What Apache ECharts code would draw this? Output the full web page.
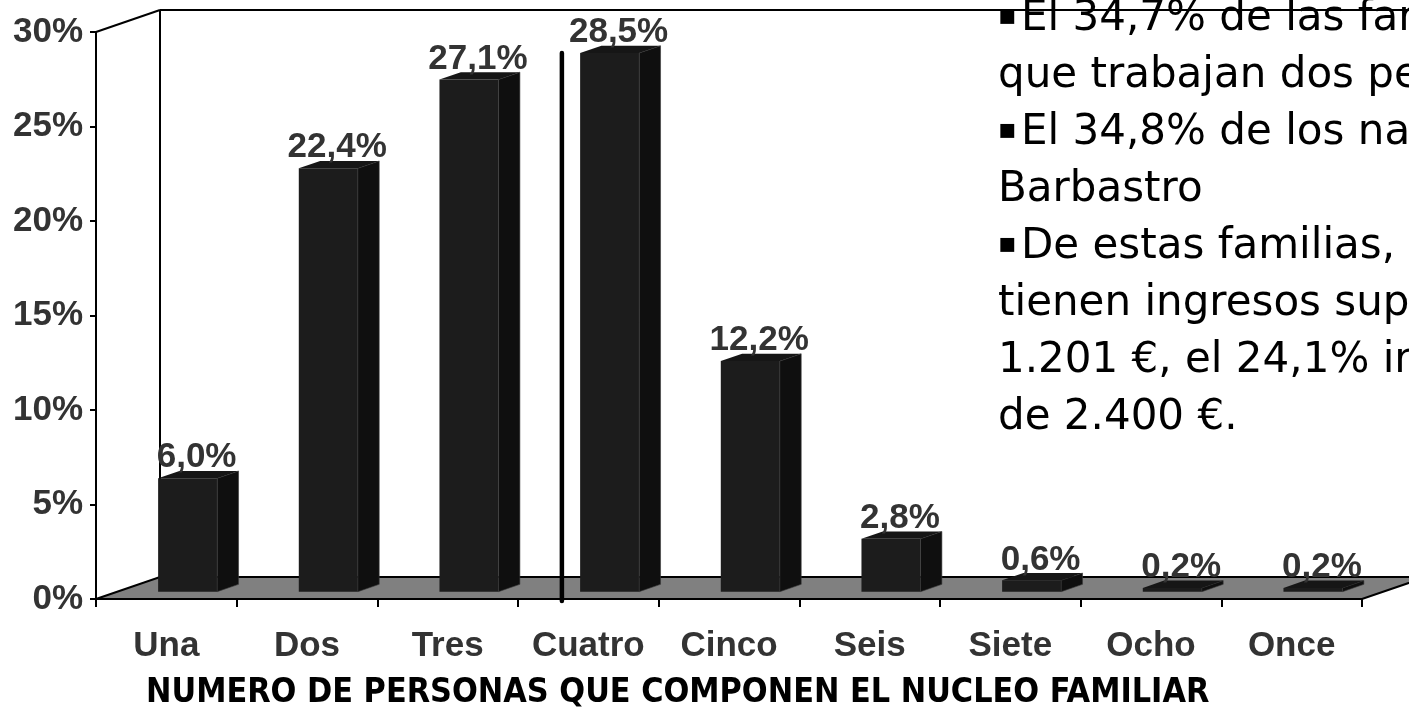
<!DOCTYPE html>
<html><head><meta charset="utf-8">
<script src="https://cdn.jsdelivr.net/npm/echarts@6/dist/echarts.min.js"></script>
<style>html,body{margin:0;padding:0;background:#fff}#c{width:1409px;height:708px}</style>
</head><body><div id="c"></div>
<script>
const categories = ['Una', 'Dos', 'Tres', 'Cuatro', 'Cinco', 'Seis', 'Siete', 'Ocho', 'Once'];
const shares = [6.0, 22.4, 27.1, 28.5, 12.2, 2.8, 0.6, 0.2, 0.2];
const yMin = 0, yMax = 30, yStep = 5;
const axisTitle = 'NUMERO DE PERSONAS QUE COMPONEN EL NUCLEO FAMILIAR';
const markedCategory = 'Cuatro';
const noteLines = [
  '{b|\u25AA}El 34,7% de las familias',
  'que trabajan dos personas',
  '{b|\u25AA}El 34,8% de los naturales de',
  'Barbastro',
  '{b|\u25AA}De estas familias,',
  'tienen ingresos superiores a',
  '1.201 \u20AC, el 24,1% ingresos',
  'de 2.400 \u20AC.'
];

// pseudo-3D depth (fraction of category band width)
const DEPTH_X = 0.455, DEPTH_Y = -0.156, BAR_W = 0.42;
const LABEL_FONT = '"Liberation Sans", Arial, sans-serif';
const NOTE_FONT = '"DejaVu Sans", sans-serif';
const fmt = v => v.toFixed(1).replace('.', ',') + '%';

function renderFrame(params, api) {
  const cs = params.coordSys;
  const W = cs.width / categories.length;
  const dx = W * DEPTH_X, dy = W * DEPTH_Y;
  const xl = cs.x, xr = cs.x + cs.width, yt = cs.y, yb = cs.y + cs.height;
  const ls = {stroke: '#000', lineWidth: 2};
  return {type: 'group', children: [
    {type: 'polygon', shape: {points: [[xl, yb], [xl + dx, yb + dy], [xr + dx, yb + dy], [xr, yb]]},
     style: {fill: '#808080', stroke: '#000', lineWidth: 2}},
    {type: 'line', shape: {x1: xl + dx, y1: yt + dy, x2: xl + dx, y2: yb + dy}, style: ls},
    {type: 'line', shape: {x1: xl, y1: yt, x2: xl + dx, y2: yt + dy}, style: ls},
    {type: 'line', shape: {x1: xl + dx, y1: yt + dy, x2: xr + dx, y2: yt + dy}, style: ls}
  ]};
}

function renderBar(params, api) {
  const i = api.value(0), v = api.value(1);
  const top = api.coord([i, v]), base = api.coord([i, 0]);
  const W = api.size([1, 0])[0];
  const ddx = W * DEPTH_X / 3, ddy = W * DEPTH_Y / 3;
  const bw = W * BAR_W;
  const x1 = top[0] - bw / 2 + ddx, x2 = x1 + bw;
  const yt = top[1] + ddy, yb = base[1] + ddy;
  return {type: 'group', children: [
    {type: 'rect', shape: {x: x1, y: yt, width: bw, height: yb - yt}, style: {fill: '#1c1c1c'}},
    {type: 'polygon', shape: {points: [[x2, yt], [x2 + ddx, yt + ddy], [x2 + ddx, yb + ddy], [x2, yb]]},
     style: {fill: '#0f0f0f', stroke: '#3a3a3a', lineWidth: 0.6}},
    {type: 'polygon', shape: {points: [[x1, yt], [x1 + ddx, yt + ddy], [x2 + ddx, yt + ddy], [x2, yt]]},
     style: {fill: '#161616'}},
    {type: 'text', x: top[0] + W * 0.215, y: yt - 3,
     style: {text: fmt(v), align: 'center', verticalAlign: 'bottom',
             fontFamily: LABEL_FONT, fontWeight: 'bold', fontSize: 35, fill: '#333'}}
  ]};
}

function renderMarker(params, api) {
  const i = api.value(0), v = api.value(1);
  const top = api.coord([i, v]), base = api.coord([i, 0]);
  const W = api.size([1, 0])[0];
  const x = top[0] - W * 0.188;
  return {type: 'line', shape: {x1: x, y1: top[1] + W * DEPTH_Y / 3, x2: x, y2: base[1] + 2},
          style: {stroke: '#000', lineWidth: 4.5, lineCap: 'round'}};
}

const chart = echarts.init(document.getElementById('c'), null, {renderer: 'canvas'});
const mi = categories.indexOf(markedCategory);
chart.setOption({
  backgroundColor: '#fff',
  animation: false,
  grid: {left: 96, right: 47, top: 32, bottom: 109},
  title: {
    text: axisTitle, left: 146, top: 676, padding: 0,
    textStyle: {fontFamily: '"DejaVu Sans Condensed", "DejaVu Sans", sans-serif', fontWeight: 'bold',
                fontSize: 33.8, color: '#000'}
  },
  xAxis: {
    type: 'category', data: categories, boundaryGap: true,
    axisLine: {lineStyle: {color: '#000', width: 2}},
    axisTick: {show: true, interval: 0, length: 8, lineStyle: {color: '#000', width: 2}},
    axisLabel: {interval: 0, margin: 30, color: '#333', fontFamily: LABEL_FONT, fontWeight: 'bold', fontSize: 35},
    splitLine: {show: false}
  },
  yAxis: {
    type: 'value', min: yMin, max: yMax, interval: yStep,
    axisLine: {show: true, lineStyle: {color: '#000', width: 2}},
    axisTick: {show: true, length: 6, lineStyle: {color: '#000', width: 2}},
    axisLabel: {margin: 13, formatter: '{value}%', color: '#333', fontFamily: LABEL_FONT, fontWeight: 'bold', fontSize: 35},
    splitLine: {show: false}
  },
  graphic: [{
    type: 'text', left: 998, top: -9, silent: true, z: 10,
    style: {text: noteLines.join('\n'), fontFamily: NOTE_FONT, fontSize: 42, lineHeight: 57, fill: '#000',
            rich: {b: {fontFamily: NOTE_FONT, fontSize: 28, lineHeight: 57, fill: '#000', padding: [0, 4, 5, 0]}}}
  }],
  series: [
    {type: 'custom', silent: true, z: 1, clip: false, renderItem: renderFrame, data: [[0, 0]]},
    {type: 'custom', silent: true, z: 3, clip: false, renderItem: renderBar,
     data: shares.map((v, i) => [i, v])},
    {type: 'custom', silent: true, z: 4, clip: false, renderItem: renderMarker,
     data: [[mi, shares[mi]]]}
  ]
});
</script></body></html>
